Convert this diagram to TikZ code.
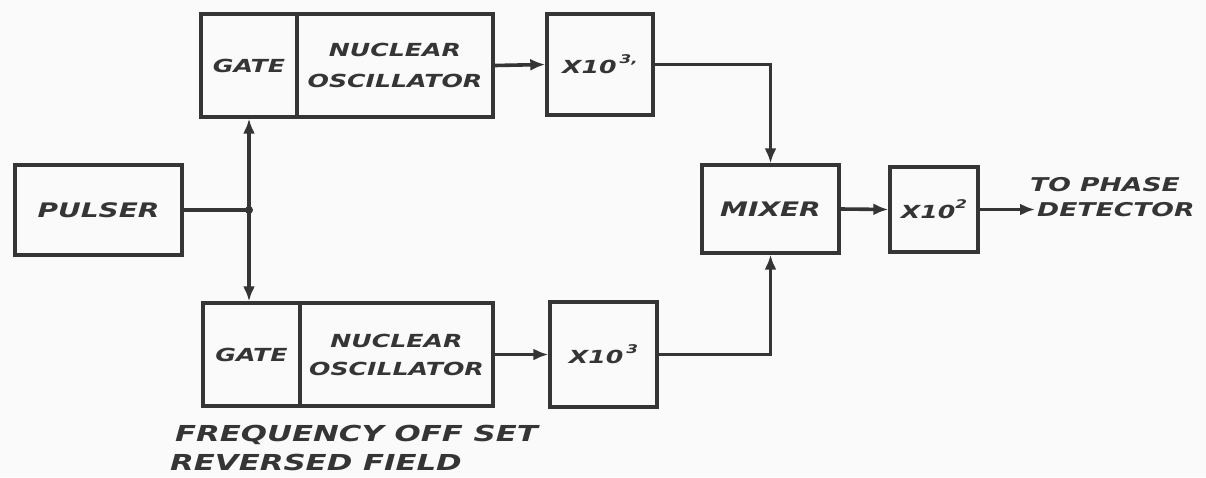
\documentclass[tikz,border=0pt]{standalone}
\usepackage{fontspec}
\newfontfamily\hand{DejaVu Sans}[FakeStretch=1.4]
\usetikzlibrary{arrows.meta}
\definecolor{ink}{HTML}{353535}
\definecolor{paper}{HTML}{FAFAFA}
\newcommand\hsup[1]{\raisebox{0.55em}{\fontsize{12}{12}\selectfont #1}}
\tikzset{
  blk/.style={draw=ink, line width=3.4pt, rectangle, inner sep=0pt, text=ink,
    font=\hand\bfseries\itshape\fontsize{18}{31}\selectfont, align=center},
  big/.style={font=\hand\bfseries\itshape\fontsize{20}{24}\selectfont},
  conn/.style={draw=ink, line width=3.6pt},
  arr/.style={conn, -{Latex[length=15pt,width=12pt]}},
  lbl/.style={text=ink, inner sep=0pt, align=left}
}
\begin{document}
\begin{tikzpicture}[x=1pt,y=-1pt]
\fill[paper] (0,0) rectangle (1206,477);
\useasboundingbox (0,0) rectangle (1206,477);

% top branch
\node[blk, minimum width=96pt, minimum height=103pt] (gatea) at (249,65.5) {GATE};
\node[blk, minimum width=196pt, minimum height=103pt] (osca) at (395,65.5) {NUCLEAR\\OSCILLATOR};
\node[blk, minimum width=106pt, minimum height=101pt] (x10a) at (600,64.5) {X10\,\hsup{3,}};

% pulser
\node[blk, big, minimum width=167pt, minimum height=90pt] (pulser) at (98.5,210) {PULSER};

% bottom branch
\node[blk, minimum width=97pt, minimum height=103pt] (gateb) at (251.5,354.5) {GATE};
\node[blk, minimum width=193pt, minimum height=103pt, font=\hand\bfseries\itshape\fontsize{18}{28}\selectfont] (oscb) at (396.5,354.5) {NUCLEAR\\OSCILLATOR};
\node[blk, minimum width=107pt, minimum height=105pt] (x10b) at (603.5,354.5) {X10\,\hsup{3}};

% mixer and output
\node[blk, big, minimum width=137pt, minimum height=88pt] (mix) at (770.5,209) {MIXER};
\node[blk, minimum width=88pt, minimum height=85pt] (x10c) at (934,209.5) {X10\hsup{2}};

\coordinate (j) at (pulser.east -| gatea.south);
\coordinate (out) at (1035,209.5);

% connectors
\draw[conn] (pulser.east) -- (j);
\draw[arr] (j) -- (gatea.south);
\draw[arr] (j) -- (j |- gateb.north);
\fill[ink] (j) circle (4pt);

\draw[arr] (osca.east) -- (x10a.west);
\draw[arr] (oscb.east) -- (x10b.west);
\draw[arr] (x10a.east) -| (mix.north);
\draw[arr] (x10b.east) -| (mix.south);
\draw[arr] (mix.east) -- (x10c.west);
\draw[arr] (x10c.east) -- (out);

% labels
\node[lbl, anchor=west, font=\hand\bfseries\itshape\fontsize{19}{25}\selectfont] (dest) at (1030,197) {TO PHASE\\\hspace{7pt}DETECTOR};
\node[lbl, anchor=west, font=\hand\bfseries\itshape\fontsize{22}{29}\selectfont] (note) at (170,447.5) {\hspace{5pt}FREQUENCY OFF SET\\REVERSED FIELD};
\end{tikzpicture}
\end{document}
